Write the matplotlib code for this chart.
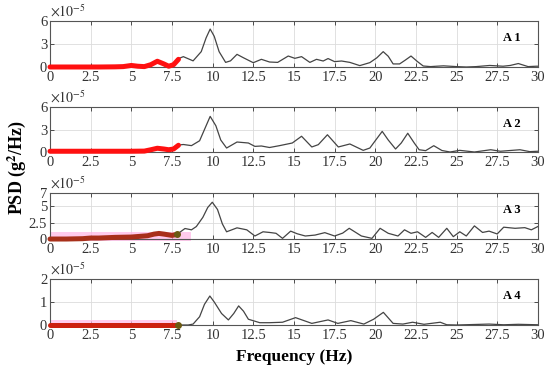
import numpy as np
import matplotlib.pyplot as plt
from matplotlib.ticker import FixedLocator, FuncFormatter

plt.rcParams['font.family'] = ['Liberation Serif', 'DejaVu Serif']
plt.rcParams['mathtext.fontset'] = 'stix'

# values in units of 1e-5 g^2/Hz
panel_names = ['A 1', 'A 2', 'A 3', 'A 4']

red1_f = [0, 1, 2, 3, 4, 4.5, 5.0, 5.4, 5.8, 6.2, 6.6, 7.0, 7.3, 7.6, 7.9]
red1_v = [0, 0, 0, 0, 0.02, 0.05, 0.2, 0.1, 0.05, 0.3, 0.75, 0.4, 0.1, 0.3, 1.0]
psd1_f = [7.8, 8.2, 8.8, 9.3, 9.6, 9.85, 10.1, 10.4, 10.8, 11.1, 11.5, 11.9, 12.5, 13.0, 13.5,
          14.0, 14.65, 15.06, 15.47, 15.98, 16.39, 16.8, 17.1, 17.5, 17.93, 18.44, 19.05, 19.67,
          20.1, 20.49, 20.8, 21.1, 21.5, 21.85, 22.2, 22.6, 22.95, 23.4, 23.77, 24.2, 25.0, 25.6,
          26.2, 27.04, 27.86, 28.3, 28.8, 29.4, 29.9, 30]
psd1_v = [1.0, 1.35, 0.8, 2.0, 3.8, 4.95, 4.0, 2.0, 0.6, 0.8, 1.65, 1.2, 0.56, 1.0, 0.65,
          0.6, 1.43, 1.13, 1.35, 0.6, 1.0, 0.78, 1.1, 0.7, 0.78, 0.6, 0.18, 0.57,
          1.2, 2.0, 1.4, 0.4, 0.4, 0.9, 1.43, 0.7, 0.13, 0.05, 0.1, 0.15, 0.05, 0.0,
          0.05, 0.2, 0.1, 0.2, 0.45, 0.05, 0.1, 0.1]

red2_f = [0, 1, 2, 3, 4, 5, 5.8, 6.2, 6.6, 7.0, 7.3, 7.6, 7.9]
red2_v = [0.1, 0.1, 0.1, 0.1, 0.1, 0.1, 0.12, 0.3, 0.5, 0.4, 0.3, 0.4, 0.9]
psd2_f = [7.8, 8.2, 8.7, 9.2, 9.5, 9.85, 10.2, 10.5, 10.86, 11.5, 12.2, 12.6, 13.0, 13.5, 14.1,
          14.9, 15.47, 16.1, 16.5, 17.06, 17.73, 18.44, 19.26, 19.67, 20.0, 20.43, 20.8, 21.25,
          21.6, 22.0, 22.4, 22.7, 23.1, 23.6, 24.1, 24.6, 25.2, 26.1, 27.1, 27.7, 28.9, 29.5, 30]
psd2_v = [0.9, 1.0, 0.85, 1.5, 3.0, 4.75, 3.5, 1.6, 0.53, 1.33, 1.2, 0.75, 0.8, 0.6, 0.84,
          1.2, 2.1, 0.67, 0.98, 2.3, 0.67, 1.07, 0.22, 0.53, 1.5, 2.75, 1.6, 0.4,
          1.2, 2.5, 1.2, 0.3, 0.18, 0.84, 0.2, 0.0, 0.22, 0.0, 0.3, 0.1, 0.3, 0.05, 0.1]

red3_f = [0, 1, 2, 2.5, 3, 4, 5, 6, 6.4, 6.7, 7.0, 7.5, 7.8]
red3_v = [0.0, 0.0, 0.05, 0.15, 0.15, 0.25, 0.3, 0.5, 0.75, 0.85, 0.75, 0.55, 0.7]
psd3_f = [7.8, 8.3, 8.7, 9.0, 9.4, 9.7, 9.98, 10.3, 10.6, 10.86, 11.5, 12.1, 12.6, 13.1, 13.5,
          13.9, 14.3, 14.8, 15.2, 15.7, 16.3, 16.9, 17.5, 18.0, 18.4, 19.15, 19.8, 20.3, 20.8,
          21.4, 21.8, 22.2, 22.6, 23.1, 23.5, 23.9, 24.4, 24.8, 25.2, 25.6, 26.1, 26.6, 27.0,
          27.5, 27.9, 28.6, 29.2, 29.6, 30]
psd3_v = [0.7, 1.6, 1.4, 1.9, 3.3, 4.8, 5.6, 4.5, 2.3, 1.1, 1.7, 1.4, 0.46, 1.1, 1.0,
          0.87, 0.1, 1.2, 0.8, 0.46, 0.6, 0.97, 0.46, 0.9, 1.63, 0.46, 0.1, 1.63, 0.87,
          0.46, 1.4, 0.87, 1.1, 0.25, 1.0, 0.25, 1.63, 0.36, 1.1, 0.46, 2.0, 1.0, 1.2,
          0.77, 1.8, 1.63, 1.73, 1.4, 1.9]

red4_f = [0, 2, 4, 6, 7.3, 7.9]
red4_v = [0, 0, 0, 0, 0, 0]
psd4_f = [7.8, 8.5, 8.8, 9.2, 9.5, 9.83, 10.1, 10.55, 10.97, 11.3, 11.6, 11.9, 12.2, 12.9, 13.5,
          14.3, 15.1, 16.1, 17.1, 17.7, 18.5, 19.3, 19.9, 20.5, 21.1, 21.7, 22.3, 23.0, 24.0,
          24.4, 25.0, 27.0, 27.9, 28.8, 30]
psd4_v = [0.0, 0.0, 0.04, 0.36, 0.9, 1.26, 1.0, 0.5, 0.22, 0.5, 0.83, 0.6, 0.25, 0.1, 0.1,
          0.12, 0.32, 0.07, 0.22, 0.07, 0.19, 0.04, 0.25, 0.55, 0.07, 0.04, 0.12, 0.03, 0.12,
          0.01, 0.0, 0.04, 0.01, 0.03, 0.01]

y_max = [6, 6, 7, 2]
y_ticks = [[0, 3, 6], [0, 3, 6], [0, 2.5, 5, 7], [0, 1, 2]]
x_ticks = [0, 2.5, 5, 7.5, 10, 12.5, 15, 17.5, 20, 22.5, 25, 27.5, 30]

# shaded band (end frequency, lower, upper) for panels 3 and 4
band = [None, None, (8.7, -0.26, 1.1), (7.8, -0.09, 0.22)]

reds = [(red1_f, red1_v), (red2_f, red2_v), (red3_f, red3_v), (red4_f, red4_v)]
psds = [(psd1_f, psd1_v), (psd2_f, psd2_v), (psd3_f, psd3_v), (psd4_f, psd4_v)]
red_colors = ['#ff1010', '#ff1010', '#a8301a', '#cc2010']

fig = plt.figure(figsize=(5.5, 3.73), dpi=100)
bottoms = [0.8204, 0.5925, 0.3592, 0.1287]
heights = [0.1233, 0.1206, 0.1233, 0.1233]

fmt = FuncFormatter(lambda v, p: '%g' % v)

for i in range(4):
    ax = fig.add_axes([0.0909, bottoms[i], 0.887, heights[i]])
    ax.set_xlim(0, 30)
    ax.set_ylim(0, y_max[i])
    ax.xaxis.set_major_locator(FixedLocator(x_ticks))
    ax.yaxis.set_major_locator(FixedLocator(y_ticks[i]))
    ax.xaxis.set_major_formatter(fmt)
    ax.yaxis.set_major_formatter(fmt)
    ax.grid(True, color='#dcdcdc', lw=0.6)
    ax.set_axisbelow(True)
    ax.tick_params(direction='in', top=True, right=True, length=3, width=0.6,
                   colors='#333333', labelsize=10.5, pad=2)
    ax.tick_params(axis='x', pad=3)
    for s in ax.spines.values():
        s.set_color('#555555')
        s.set_linewidth(0.8)

    if band[i] is not None:
        end, lo, hi = band[i]
        ax.fill_between([0, end], lo, hi, color='#ffb6e6', alpha=0.7, lw=0,
                        zorder=1, clip_on=False)

    pf, pv = psds[i]
    ax.plot(pf, pv, color='#444444', lw=0.9, zorder=2)

    rf, rv = reds[i]
    ax.plot(rf, rv, color=red_colors[i], lw=3.6, solid_capstyle='round',
            zorder=3, clip_on=False)
    if i >= 2:
        ax.plot(rf[-1], rv[-1], 'o', color='#6b5a12', ms=4, zorder=4, clip_on=False)

    ax.text(0.965, 0.63, panel_names[i], transform=ax.transAxes, ha='right',
            va='center', fontsize=9, fontweight='bold')
    ax.text(0.0, 1.02, r'$\times10^{-5}$', transform=ax.transAxes, ha='left',
            va='bottom', fontsize=10, color='#333333')

fig.text(0.5345, 0.043, 'Frequency (Hz)', ha='center', va='center',
         fontsize=12.5, fontweight='bold')
fig.text(0.03, 0.55, r'PSD (g$^\mathbf{2}$/Hz)', ha='center', va='center',
         rotation=90, fontsize=13, fontweight='bold')

fig.savefig('out.png', dpi=100)
